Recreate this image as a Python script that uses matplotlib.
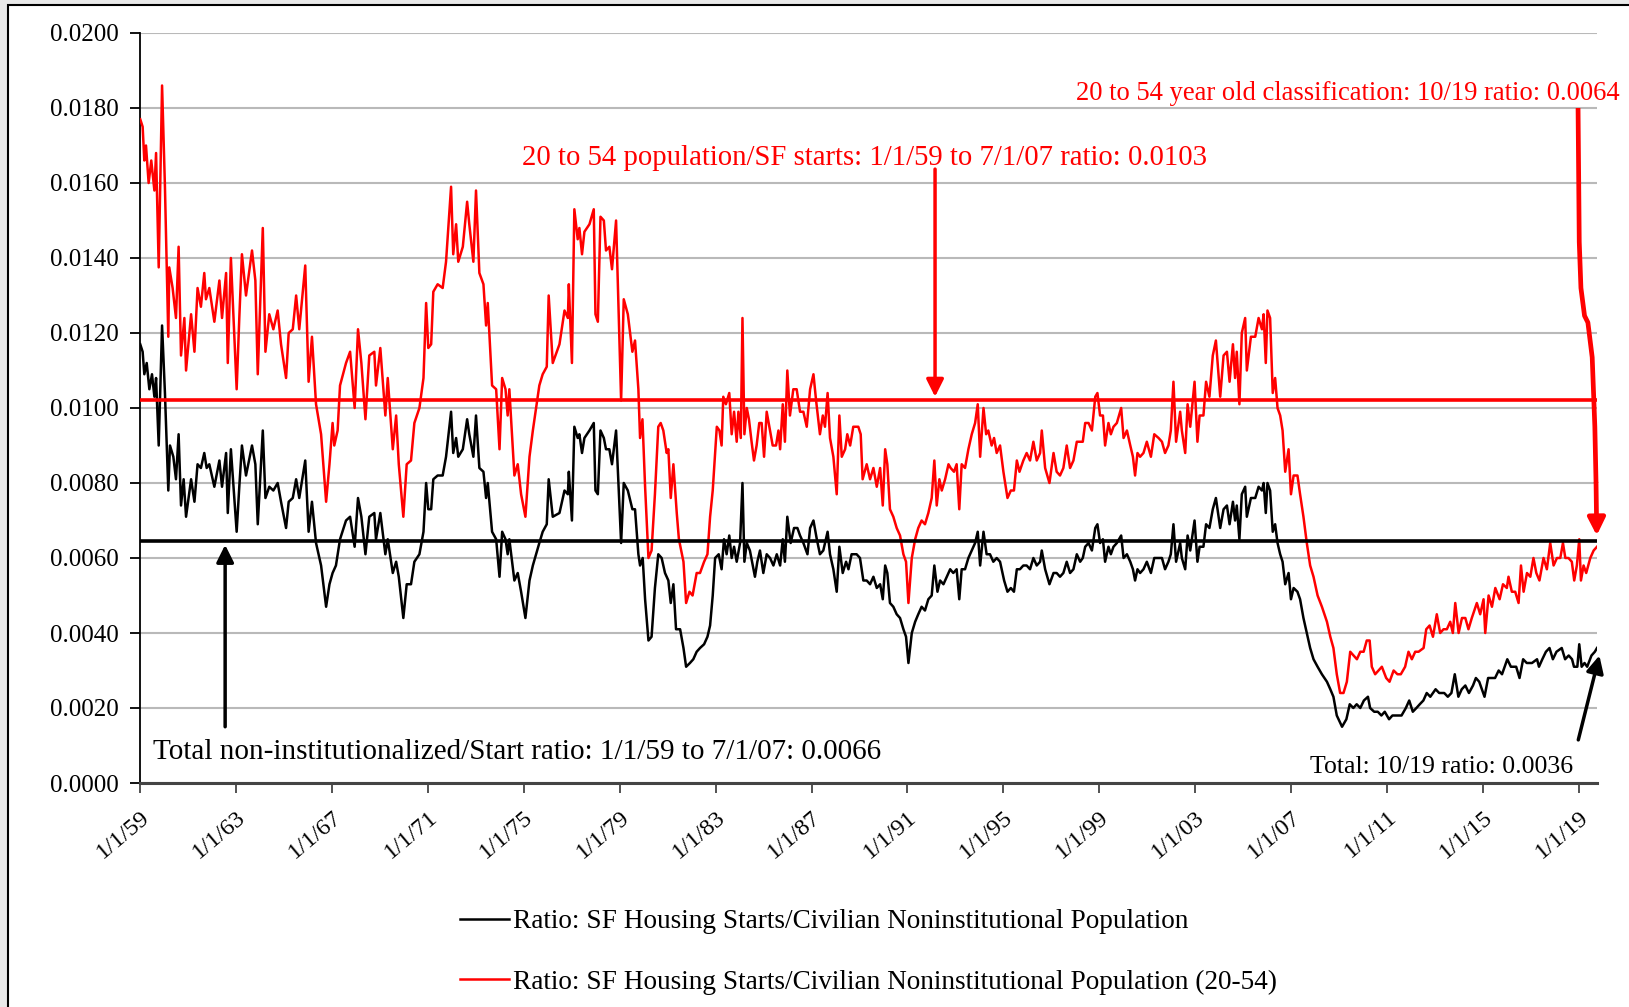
import matplotlib
matplotlib.use("Agg")
import matplotlib.pyplot as plt
from matplotlib.patches import Rectangle
from matplotlib.ticker import FixedLocator, FormatStrFormatter

plt.rcParams['font.family'] = ['Liberation Serif', 'DejaVu Serif']

# ratio of SF starts to the 20-54 population (red)
red_years = [
    1959.01, 1959.11, 1959.18, 1959.25, 1959.36, 1959.47, 1959.60, 1959.67, 1959.78, 1959.92,
    1960.04, 1960.18, 1960.22, 1960.36, 1960.50, 1960.61, 1960.71, 1960.85, 1960.92, 1961.13,
    1961.27, 1961.40, 1961.54, 1961.68, 1961.75, 1961.89, 1962.10, 1962.31, 1962.42, 1962.59,
    1962.66, 1962.79, 1963.03, 1963.14, 1963.25, 1963.42, 1963.67, 1963.81, 1963.91, 1964.12,
    1964.23, 1964.39, 1964.56, 1964.74, 1964.88, 1965.09, 1965.20, 1965.37, 1965.51, 1965.64,
    1965.89, 1966.03, 1966.17, 1966.34, 1966.55, 1966.76, 1966.90, 1967.03, 1967.10, 1967.24,
    1967.34, 1967.59, 1967.76, 1967.95, 1968.09, 1968.23, 1968.40, 1968.56, 1968.77, 1968.84,
    1969.02, 1969.23, 1969.33, 1969.54, 1969.68, 1969.79, 1969.98, 1970.12, 1970.30, 1970.44,
    1970.65, 1970.82, 1970.93, 1971.02, 1971.14, 1971.23, 1971.41, 1971.62, 1971.76, 1971.97,
    1972.06, 1972.18, 1972.27, 1972.46, 1972.64, 1972.73, 1972.90, 1973.01, 1973.15, 1973.32,
    1973.43, 1973.50, 1973.68, 1973.85, 1973.99, 1974.10, 1974.24, 1974.33, 1974.40, 1974.61,
    1974.75, 1974.89, 1975.07, 1975.24, 1975.38, 1975.65, 1975.79, 1975.96, 1976.04, 1976.21,
    1976.49, 1976.70, 1976.84, 1976.88, 1977.01, 1977.11, 1977.25, 1977.32, 1977.43, 1977.53,
    1977.74, 1977.92, 1977.99, 1978.09, 1978.20, 1978.34, 1978.43, 1978.57, 1978.68, 1978.85,
    1979.06, 1979.17, 1979.34,
    1979.53, 1979.64, 1979.78, 1979.85, 1979.95, 1980.06, 1980.20, 1980.33, 1980.47, 1980.61,
    1980.71, 1980.82, 1980.96, 1981.03, 1981.13, 1981.24, 1981.38, 1981.47, 1981.66, 1981.77,
    1981.91, 1982.04, 1982.21, 1982.35, 1982.52, 1982.66, 1982.77, 1982.88, 1982.98, 1983.05,
    1983.16, 1983.25, 1983.32, 1983.43, 1983.57, 1983.67, 1983.77, 1983.88, 1983.95, 1984.05,
    1984.12, 1984.20, 1984.30, 1984.39, 1984.50, 1984.60, 1984.71, 1984.82, 1984.92, 1985.02,
    1985.13, 1985.27, 1985.38, 1985.52, 1985.62, 1985.69, 1985.80, 1985.89, 1985.99, 1986.10,
    1986.24, 1986.38, 1986.52, 1986.66, 1986.80, 1986.94, 1987.08, 1987.19, 1987.35, 1987.47,
    1987.56, 1987.67, 1987.77, 1987.91, 1988.05, 1988.16, 1988.26, 1988.40, 1988.49, 1988.61,
    1988.74, 1988.95, 1989.05, 1989.13, 1989.30, 1989.44, 1989.58, 1989.72, 1989.86, 1989.97,
    1990.07, 1990.16, 1990.27, 1990.41, 1990.55, 1990.69, 1990.83, 1990.94, 1991.04, 1991.18,
    1991.32, 1991.45, 1991.59, 1991.73, 1991.87, 1992.01, 1992.12, 1992.22, 1992.33, 1992.43,
    1992.57, 1992.71, 1992.80, 1992.94, 1993.05, 1993.16, 1993.26, 1993.40, 1993.54, 1993.68,
    1993.82, 1993.93, 1994.03, 1994.17, 1994.28, 1994.37, 1994.51, 1994.61, 1994.72, 1994.86,
    1995.00, 1995.17, 1995.31, 1995.44, 1995.56, 1995.67, 1995.83, 1995.97, 1996.11, 1996.25,
    1996.39, 1996.53, 1996.60, 1996.74, 1996.92, 1997.09, 1997.22, 1997.36, 1997.50, 1997.64,
    1997.78, 1997.92, 1998.06,
    1998.20, 1998.31, 1998.41, 1998.55, 1998.69, 1998.83, 1998.92, 1999.03, 1999.15, 1999.24,
    1999.38, 1999.48, 1999.59, 1999.73, 1999.91, 2000.01, 2000.15, 2000.29, 2000.40, 2000.49,
    2000.59, 2000.70, 2000.84, 2000.98, 2001.15, 2001.29, 2001.47, 2001.61, 2001.74, 2001.88,
    2001.98, 2002.09, 2002.20, 2002.37, 2002.44, 2002.58, 2002.68, 2002.79, 2002.97, 2003.09,
    2003.18, 2003.34, 2003.45, 2003.59, 2003.73, 2003.86, 2004.04, 2004.18, 2004.32, 2004.43,
    2004.57, 2004.66, 2004.73, 2004.84, 2004.94, 2005.08, 2005.15, 2005.32, 2005.50, 2005.64,
    2005.78, 2005.85, 2005.94, 2006.01, 2006.12, 2006.23, 2006.33, 2006.43, 2006.54, 2006.64,
    2006.75, 2006.89, 2006.99, 2007.10, 2007.26, 2007.37, 2007.51, 2007.65, 2007.79, 2007.93,
    2008.10, 2008.28, 2008.49, 2008.63, 2008.76, 2008.90, 2009.04, 2009.18, 2009.32, 2009.46,
    2009.60, 2009.74, 2009.88, 2010.02, 2010.15, 2010.27, 2010.36, 2010.50, 2010.64, 2010.78,
    2010.96, 2011.10, 2011.27, 2011.43, 2011.57, 2011.75, 2011.89, 2012.03, 2012.17, 2012.31,
    2012.52, 2012.63, 2012.77, 2012.91, 2013.07, 2013.21, 2013.35, 2013.49, 2013.63, 2013.74,
    2013.84, 2013.98, 2014.12, 2014.26, 2014.39, 2014.53, 2014.74, 2014.88, 2015.02, 2015.09,
    2015.23, 2015.37, 2015.51, 2015.69, 2015.83, 2015.99, 2016.06, 2016.20, 2016.34, 2016.48,
    2016.58, 2016.69, 2016.83, 2016.97, 2017.10, 2017.22, 2017.35, 2017.52, 2017.66, 2017.80,
    2017.94, 2018.08, 2018.22, 2018.33, 2018.43, 2018.56, 2018.70, 2018.80, 2018.91, 2019.01,
    2019.08, 2019.19, 2019.30, 2019.47, 2019.61, 2019.75,
]
red_ratio = [
    0.0177, 0.0175, 0.0166, 0.0170, 0.0160, 0.0166, 0.0158, 0.0168, 0.01375, 0.0186,
    0.0159, 0.0119, 0.01375, 0.0132, 0.0124, 0.0143, 0.0114, 0.0124, 0.0110, 0.0125,
    0.0115, 0.0132, 0.0127, 0.0136, 0.0129, 0.0132, 0.0123, 0.0134, 0.0124, 0.0136,
    0.0112, 0.0140, 0.0105, 0.0124, 0.0141, 0.0130, 0.0142, 0.0134, 0.0109, 0.0148,
    0.0115, 0.0125, 0.0121, 0.0126, 0.0117, 0.0108, 0.0120, 0.0121, 0.0130, 0.0121,
    0.0138, 0.0107, 0.0119, 0.0101, 0.0093, 0.0075, 0.0085, 0.0096, 0.0090, 0.0094,
    0.0106, 0.0112, 0.0115, 0.0100, 0.0121, 0.0112, 0.0097, 0.0114, 0.0115, 0.0106,
    0.0116, 0.0098, 0.0108, 0.0089, 0.0098, 0.0085, 0.0071, 0.0085, 0.0086, 0.0096,
    0.0100, 0.0108, 0.0128, 0.0116, 0.0117, 0.0131, 0.0133, 0.0132, 0.0139, 0.0159,
    0.0141, 0.0149, 0.0139, 0.0143, 0.0155, 0.0149, 0.0139, 0.0158, 0.0136, 0.0133,
    0.0122, 0.0128, 0.0106, 0.0105, 0.0089, 0.0108, 0.0105, 0.0098, 0.0105, 0.0082,
    0.0085, 0.0077, 0.0071, 0.0087, 0.0094, 0.0106, 0.0109, 0.0111, 0.0130, 0.0112,
    0.0117, 0.0126, 0.0124, 0.0133, 0.0112, 0.0153, 0.0145, 0.0148, 0.0141, 0.0147,
    0.0149, 0.0153, 0.0125, 0.0123, 0.0151, 0.0150, 0.0142, 0.0143, 0.0137, 0.0150,
    0.0102, 0.0129, 0.0125,
    0.0115, 0.0118, 0.0105, 0.0092, 0.0097, 0.0079, 0.0060, 0.0062, 0.0077, 0.0095,
    0.0096, 0.0094, 0.0088, 0.0089, 0.0076, 0.0085, 0.0072, 0.0065, 0.0059, 0.0048,
    0.0051, 0.0050, 0.0056, 0.0056, 0.0059, 0.0061, 0.0071, 0.0078, 0.0088, 0.0095,
    0.0094, 0.0090, 0.0103, 0.0101, 0.0104, 0.0093, 0.0099, 0.0091, 0.0099, 0.0092,
    0.0124, 0.0093, 0.0100, 0.0097, 0.0091, 0.0086, 0.0090, 0.0096, 0.0096, 0.0087,
    0.0099, 0.0094, 0.0090, 0.0090, 0.0094, 0.0089, 0.0101, 0.0091, 0.0110, 0.0098,
    0.0105, 0.0105, 0.0099, 0.0099, 0.0095, 0.0105, 0.0109, 0.0102, 0.0093, 0.0098,
    0.0095, 0.0104, 0.0092, 0.0087, 0.0077, 0.0098, 0.0087, 0.0089, 0.0093, 0.0090,
    0.0095, 0.0095, 0.0093, 0.0081, 0.0085, 0.0081, 0.0084, 0.0079, 0.0084, 0.0074,
    0.0089, 0.0085, 0.0073, 0.0071, 0.0068, 0.0066, 0.0061, 0.0059, 0.0048, 0.0060,
    0.0065, 0.0068, 0.0070, 0.0069, 0.0072, 0.0076, 0.0086, 0.0074, 0.0081, 0.0078,
    0.0081, 0.0085, 0.0084, 0.0083, 0.0085, 0.0073, 0.0085, 0.0084, 0.0089, 0.0093,
    0.0096, 0.0101, 0.0087, 0.0100, 0.0093, 0.0094, 0.0090, 0.0092, 0.0088, 0.0090,
    0.0083, 0.0076, 0.0078, 0.0078, 0.0086, 0.0083, 0.0086, 0.0088, 0.0086, 0.0091,
    0.0086, 0.0088, 0.0094, 0.0084, 0.0080, 0.0088, 0.0083, 0.0082, 0.0084, 0.0090,
    0.0084, 0.0086, 0.0091,
    0.0091, 0.0091, 0.0096, 0.0096, 0.0094, 0.0103, 0.0104, 0.0098, 0.0098, 0.0090,
    0.0096, 0.0093, 0.0095, 0.0096, 0.0100, 0.0092, 0.0094, 0.0090, 0.0087, 0.0082,
    0.0088, 0.0087, 0.0088, 0.0091, 0.0087, 0.0093, 0.0092, 0.0091, 0.0088, 0.0090,
    0.0094, 0.0107, 0.0091, 0.0099, 0.0094, 0.0088, 0.0101, 0.0095, 0.0107, 0.0091,
    0.0098, 0.0098, 0.0107, 0.0103, 0.0114, 0.0118, 0.0103, 0.0114, 0.0115, 0.0107,
    0.0117, 0.0108, 0.0115, 0.0101, 0.0120, 0.0124, 0.0110, 0.0119, 0.0119, 0.0124,
    0.0121, 0.0125, 0.0112, 0.0126, 0.0124, 0.0104, 0.0108, 0.0100, 0.0098, 0.0094,
    0.0083, 0.0089, 0.0077, 0.0082, 0.0082, 0.0077, 0.0071, 0.0064, 0.0058, 0.0055,
    0.0050, 0.0047, 0.0043, 0.0039, 0.0036, 0.0029, 0.0024, 0.0024, 0.0027, 0.0035,
    0.0034, 0.0033, 0.0035, 0.0035, 0.0038, 0.0038, 0.0031, 0.0029, 0.0030, 0.0031,
    0.0028, 0.0027, 0.0030, 0.0029, 0.0029, 0.0031, 0.0035, 0.0033, 0.0035, 0.0035,
    0.0036, 0.0041, 0.0042, 0.0039, 0.0045, 0.0040, 0.0041, 0.0041, 0.0043, 0.0040,
    0.0048, 0.0040, 0.0044, 0.0044, 0.0041, 0.0044, 0.0048, 0.0045, 0.0049, 0.0040,
    0.0050, 0.0047, 0.0052, 0.0049, 0.0053, 0.0052, 0.0055, 0.0051, 0.0051, 0.0048,
    0.0058, 0.0051, 0.0056, 0.0055, 0.0060, 0.0056, 0.0054, 0.0060, 0.0057, 0.0064,
    0.0058, 0.0060, 0.0060, 0.0064, 0.0060, 0.0060, 0.0059, 0.0054, 0.0058, 0.0065,
    0.0054, 0.0058, 0.0056, 0.0060, 0.0062, 0.0063,
]

# ratio of SF starts to the total civilian noninstitutional population (black)
total_years = [
    1959.01, 1959.11, 1959.18, 1959.28, 1959.39, 1959.50, 1959.60, 1959.67, 1959.78, 1959.92,
    1960.04, 1960.18, 1960.25, 1960.39, 1960.50, 1960.61, 1960.71, 1960.82, 1960.92, 1961.13,
    1961.27, 1961.40, 1961.54, 1961.68, 1961.78, 1961.89, 1962.10, 1962.31, 1962.42, 1962.59,
    1962.66, 1962.79, 1963.03, 1963.14, 1963.25, 1963.42, 1963.67, 1963.81, 1963.91, 1964.12,
    1964.23, 1964.39, 1964.56, 1964.74, 1964.88, 1965.09, 1965.20, 1965.37, 1965.51, 1965.64,
    1965.89, 1966.03, 1966.17, 1966.34, 1966.55, 1966.76, 1966.90, 1967.03, 1967.17, 1967.34,
    1967.59, 1967.76, 1967.95, 1968.09, 1968.23, 1968.40, 1968.56, 1968.77, 1968.84, 1969.02,
    1969.23, 1969.33, 1969.54, 1969.68, 1969.79, 1969.98, 1970.12, 1970.30, 1970.44, 1970.65,
    1970.82, 1970.93, 1971.02, 1971.14, 1971.23, 1971.41, 1971.62, 1971.76, 1971.97, 1972.06,
    1972.18, 1972.27, 1972.46, 1972.64, 1972.73, 1972.90, 1973.01, 1973.15, 1973.32, 1973.43,
    1973.50, 1973.68, 1973.85, 1973.99, 1974.10, 1974.24, 1974.33, 1974.40, 1974.61, 1974.75,
    1974.89, 1975.07, 1975.24, 1975.38, 1975.65, 1975.79, 1975.96, 1976.04, 1976.21, 1976.49,
    1976.70, 1976.84, 1976.88, 1977.01, 1977.11, 1977.25, 1977.32, 1977.43, 1977.53, 1977.74,
    1977.92, 1977.99, 1978.09, 1978.20, 1978.34, 1978.43, 1978.57, 1978.68, 1978.85, 1979.06,
    1979.17, 1979.34,
    1979.53, 1979.64, 1979.78, 1979.85, 1979.96, 1980.06, 1980.20, 1980.33, 1980.47, 1980.61,
    1980.75, 1980.89, 1981.03, 1981.13, 1981.24, 1981.35, 1981.52, 1981.66, 1981.77, 1981.93,
    1982.07, 1982.21, 1982.35, 1982.52, 1982.66, 1982.77, 1982.88, 1982.98, 1983.13, 1983.25,
    1983.35, 1983.46, 1983.57, 1983.67, 1983.77, 1983.88, 1984.02, 1984.12, 1984.20, 1984.30,
    1984.43, 1984.55, 1984.64, 1984.74, 1984.85, 1984.99, 1985.13, 1985.27, 1985.41, 1985.55,
    1985.69, 1985.80, 1985.89, 1985.99, 1986.13, 1986.27, 1986.41, 1986.52, 1986.66, 1986.83,
    1986.94, 1987.08, 1987.22, 1987.35, 1987.49, 1987.67, 1987.77, 1987.91, 1988.05, 1988.16,
    1988.30, 1988.44, 1988.54, 1988.67, 1988.88, 1989.02, 1989.16, 1989.30, 1989.44, 1989.58,
    1989.72, 1989.86, 1989.97, 1990.07, 1990.16, 1990.27, 1990.41, 1990.55, 1990.69, 1990.83,
    1990.94, 1991.04, 1991.18, 1991.32, 1991.45, 1991.59, 1991.73, 1991.87, 1992.01, 1992.12,
    1992.25, 1992.36, 1992.50, 1992.64, 1992.78, 1992.91, 1993.05, 1993.16, 1993.26, 1993.40,
    1993.54, 1993.68, 1993.82, 1993.93, 1994.03, 1994.17, 1994.30, 1994.44, 1994.58, 1994.72,
    1994.86, 1995.03, 1995.17, 1995.31, 1995.44, 1995.56, 1995.69, 1995.83, 1995.97, 1996.11,
    1996.25, 1996.39, 1996.53, 1996.60, 1996.74, 1996.92, 1997.09, 1997.22, 1997.36, 1997.50,
    1997.64, 1997.78, 1997.92, 1998.06,
    1998.20, 1998.31, 1998.41, 1998.55, 1998.69, 1998.83, 1998.92, 1999.03, 1999.15, 1999.24,
    1999.38, 1999.48, 1999.59, 1999.73, 1999.91, 2000.01, 2000.15, 2000.29, 2000.40, 2000.49,
    2000.59, 2000.70, 2000.84, 2000.98, 2001.15, 2001.29, 2001.47, 2001.61, 2001.74, 2001.88,
    2001.98, 2002.09, 2002.20, 2002.37, 2002.44, 2002.58, 2002.68, 2002.79, 2002.97, 2003.09,
    2003.18, 2003.34, 2003.45, 2003.59, 2003.73, 2003.86, 2004.04, 2004.18, 2004.32, 2004.43,
    2004.57, 2004.66, 2004.73, 2004.84, 2004.94, 2005.08, 2005.15, 2005.32, 2005.50, 2005.64,
    2005.78, 2005.85, 2005.94, 2006.01, 2006.12, 2006.23, 2006.33, 2006.43, 2006.54, 2006.64,
    2006.75, 2006.89, 2006.99, 2007.10, 2007.26, 2007.37, 2007.51, 2007.65, 2007.79, 2007.93,
    2008.10, 2008.28, 2008.49, 2008.63, 2008.76, 2008.90,
    2009.12, 2009.30, 2009.44, 2009.59, 2009.73, 2009.88, 2010.03, 2010.20, 2010.29, 2010.46,
    2010.61, 2010.76, 2010.90, 2011.08, 2011.22, 2011.41, 2011.60, 2011.78, 2011.92, 2012.07,
    2012.22, 2012.36, 2012.51, 2012.65, 2012.80, 2013.02, 2013.17, 2013.38, 2013.53, 2013.68,
    2013.82, 2013.97, 2014.11, 2014.26, 2014.41, 2014.58, 2014.70, 2014.84, 2015.06, 2015.21,
    2015.36, 2015.50, 2015.65, 2015.79, 2016.01, 2016.16, 2016.38, 2016.52, 2016.67, 2016.82,
    2017.04, 2017.25, 2017.33, 2017.47, 2017.62, 2017.77, 2017.91, 2018.06, 2018.28, 2018.42,
    2018.57, 2018.71, 2018.79, 2018.93, 2019.01, 2019.11, 2019.23, 2019.34, 2019.52, 2019.66,
    2019.75,
]
total_ratio = [
    0.0117, 0.0115, 0.0109, 0.0112, 0.0105, 0.0109, 0.0103, 0.0108, 0.0090, 0.0122,
    0.0104, 0.0078, 0.0090, 0.0087, 0.0081, 0.0093, 0.0074, 0.0081, 0.0071, 0.0081,
    0.0075, 0.0085, 0.0084, 0.0088, 0.0084, 0.0085, 0.0079, 0.0086, 0.0079, 0.0088,
    0.0072, 0.0089, 0.0067, 0.0079, 0.0090, 0.0082, 0.0090, 0.0085, 0.0069, 0.0094,
    0.0076, 0.0079, 0.0078, 0.0080, 0.0075, 0.0068, 0.0075, 0.0076, 0.0081, 0.0076,
    0.0086, 0.0067, 0.0075, 0.0064, 0.0058, 0.0047, 0.0053, 0.0056, 0.0058, 0.0065,
    0.0070, 0.0071, 0.0063, 0.0076, 0.0071, 0.0061, 0.0071, 0.0072, 0.0065, 0.0072,
    0.0061, 0.0065, 0.0056, 0.0059, 0.0055, 0.0044, 0.0053, 0.0053, 0.0059, 0.0061,
    0.0067, 0.0080, 0.0073, 0.0073, 0.0081, 0.0082, 0.0082, 0.0087, 0.0099, 0.0088,
    0.0092, 0.0087, 0.0089, 0.0097, 0.0093, 0.0087, 0.0098, 0.0084, 0.0083, 0.0076,
    0.0080, 0.0067, 0.0065, 0.0055, 0.0067, 0.0065, 0.0061, 0.0065, 0.0054, 0.0056,
    0.0051, 0.0044, 0.0054, 0.0058, 0.0064, 0.0067, 0.0069, 0.0081, 0.0071, 0.0072,
    0.0078, 0.0077, 0.0083, 0.0070, 0.0095, 0.0092, 0.0093, 0.0088, 0.0092, 0.0094,
    0.0096, 0.0078, 0.0077, 0.0094, 0.0092, 0.0089, 0.0089, 0.0085, 0.0094, 0.0064,
    0.0080, 0.0078,
    0.0073, 0.0073, 0.0061, 0.0058, 0.0060, 0.0049, 0.0038, 0.0039, 0.0052, 0.0061,
    0.0060, 0.0056, 0.0054, 0.0048, 0.0053, 0.0041, 0.0041, 0.0036, 0.0031, 0.0032,
    0.0033, 0.0035, 0.0036, 0.0037, 0.0039, 0.0042, 0.0050, 0.0060, 0.0061, 0.0057,
    0.0065, 0.0061, 0.0066, 0.0060, 0.0063, 0.0059, 0.0064, 0.0080, 0.0059, 0.0064,
    0.0062, 0.0058, 0.0055, 0.0059, 0.0062, 0.0056, 0.0061, 0.0060, 0.0058, 0.0061,
    0.0058, 0.0065, 0.0059, 0.0071, 0.0064, 0.0068, 0.0068, 0.0066, 0.0064, 0.0061,
    0.0068, 0.0070, 0.0065, 0.0061, 0.0062, 0.0067, 0.0061, 0.0057, 0.0051, 0.0063,
    0.0056, 0.0059, 0.0057, 0.0061, 0.0061, 0.0060, 0.0054, 0.0054, 0.0053, 0.0055,
    0.0052, 0.0053, 0.0049, 0.0058, 0.0056, 0.0048, 0.0047, 0.0045, 0.0044, 0.0041,
    0.0039, 0.0032, 0.0040, 0.0043, 0.0045, 0.0047, 0.0046, 0.0049, 0.0050, 0.0058,
    0.0051, 0.0054, 0.0053, 0.0055, 0.0057, 0.0056, 0.0057, 0.0049, 0.0057, 0.0057,
    0.0060, 0.0062, 0.0064, 0.0067, 0.0058, 0.0067, 0.0061, 0.0061, 0.0059, 0.0060,
    0.0059, 0.0054, 0.0051, 0.0052, 0.0051, 0.0057, 0.0057, 0.0058, 0.0058, 0.0057,
    0.0060, 0.0058, 0.0059, 0.0062, 0.0057, 0.0053, 0.0056, 0.0056, 0.0055, 0.0056,
    0.0059, 0.0056, 0.0057, 0.0061,
    0.0059, 0.0060, 0.0063, 0.0064, 0.0062, 0.0068, 0.0069, 0.0064, 0.0065, 0.0059,
    0.0063, 0.0061, 0.0063, 0.0064, 0.0066, 0.0060, 0.0061, 0.0059, 0.0057, 0.0054,
    0.0057, 0.0056, 0.0057, 0.0059, 0.0056, 0.0060, 0.0060, 0.0060, 0.0057, 0.0059,
    0.0061, 0.0069, 0.0059, 0.0064, 0.0060, 0.0057, 0.0066, 0.0062, 0.0070, 0.0059,
    0.0063, 0.0063, 0.0069, 0.0068, 0.0073, 0.0076, 0.0068, 0.0073, 0.0074, 0.0069,
    0.0075, 0.0070, 0.0074, 0.0065, 0.0077, 0.0079, 0.0071, 0.0076, 0.0076, 0.0079,
    0.0078, 0.0080, 0.0072, 0.0080, 0.0078, 0.0067, 0.0069, 0.0064, 0.0061, 0.0059,
    0.0053, 0.0056, 0.0049, 0.0052, 0.0051, 0.0049, 0.0044, 0.0040, 0.0036, 0.0033,
    0.0031, 0.0029, 0.0027, 0.0025, 0.0023, 0.0018,
    0.0015, 0.0017, 0.0021, 0.0020, 0.0021, 0.0020, 0.0022, 0.0023, 0.0020, 0.0019,
    0.0019, 0.0018, 0.0019, 0.0017, 0.0018, 0.0018, 0.0018, 0.0020, 0.0022, 0.0019,
    0.0020, 0.0021, 0.0022, 0.0024, 0.0023, 0.0025, 0.0024, 0.0024, 0.0023, 0.0024,
    0.0029, 0.0023, 0.0025, 0.0026, 0.0024, 0.0026, 0.0028, 0.0027, 0.0023, 0.0028,
    0.0028, 0.0028, 0.0030, 0.0029, 0.0033, 0.0031, 0.0031, 0.0028, 0.0033, 0.0032,
    0.0032, 0.0033, 0.0031, 0.0033, 0.0035, 0.0036, 0.0033, 0.0035, 0.0036, 0.0033,
    0.0034, 0.0033, 0.0031, 0.0031, 0.0037, 0.0031, 0.0032, 0.0031, 0.0034, 0.0035,
    0.0036,
]

# long-run averages drawn as flat lines
red_mean = 0.0102
total_mean = 0.00645

tick_years = list(range(1959, 2020, 4))
tick_labels = ["1/1/%02d" % (y % 100) for y in tick_years]

assert len(red_years) == len(red_ratio)
assert len(total_years) == len(total_ratio)

fig = plt.figure(figsize=(16.29, 10.07), dpi=100)
fig.patch.set_facecolor("#e9e9e9")
# white sheet with a thin black frame on the left and top
fig.add_artist(Rectangle((8 / 1629, -0.05), 1.1, 1.05 - 5 / 1007,
                         transform=fig.transFigure, facecolor="white",
                         edgecolor="black", linewidth=1.5, zorder=-10))

ax = fig.add_axes([140 / 1629, 1 - 783 / 1007, 1457 / 1629, 750 / 1007])
ax.set_facecolor("none")

red_line, = ax.plot(red_years, red_ratio, color="#ff0000", lw=1.8, zorder=3)
blk_line, = ax.plot(total_years, total_ratio, color="black", lw=1.8, zorder=3)
ax.axhline(red_mean, color="#ff0000", lw=2.6, zorder=4)
ax.axhline(total_mean, color="black", lw=2.6, zorder=4)

ax.set_xlim(1959, 2019.75)
ax.set_ylim(0, 0.02)
ax.yaxis.set_major_locator(FixedLocator([i * 0.002 for i in range(11)]))
ax.yaxis.set_major_formatter(FormatStrFormatter("%.4f"))
ax.set_xticks(tick_years)
ax.set_xticklabels(tick_labels, rotation=40, ha="right", va="top",
                   rotation_mode="anchor")
ax.grid(axis="y", color="#b9b9b9", lw=1.5, zorder=0)
ax.set_axisbelow(True)

for side in ("top", "right"):
    ax.spines[side].set_visible(False)
ax.spines["left"].set_color("black")
ax.spines["left"].set_linewidth(1.3)
ax.spines["bottom"].set_color("#444444")
ax.spines["bottom"].set_linewidth(2.2)
ax.tick_params(axis="y", direction="out", length=7, width=1.3, pad=8,
               labelsize=18)
ax.tick_params(axis="x", direction="out", length=7, width=1.3, pad=10,
               labelsize=17.5, color="#444444")

# arrows
ax.annotate("", xy=(1992.15, 0.0103), xytext=(1992.15, 0.01637),
            arrowprops=dict(arrowstyle="-|>", color="#ff0000", lw=2.5,
                            mutation_scale=26, shrinkA=0, shrinkB=0))
ax.annotate("", xy=(1962.55, 0.00635), xytext=(1962.55, 0.0015),
            arrowprops=dict(arrowstyle="-|>", color="black", lw=2.5,
                            mutation_scale=26, shrinkA=0, shrinkB=0))
ax.annotate("", xy=(2019.85, 0.0034), xytext=(2018.97, 0.00115),
            arrowprops=dict(arrowstyle="-|>", color="black", lw=2.5,
                            mutation_scale=26, shrinkA=0, shrinkB=0),
            annotation_clip=False)
bend_x = [2018.96, 2019.01, 2019.08, 2019.23, 2019.37, 2019.55, 2019.66, 2019.71]
bend_y = [0.0180, 0.01443, 0.0132, 0.01246, 0.01228, 0.01135, 0.0095, 0.0080]
ax.plot(bend_x, bend_y, color="#ff0000", lw=3.4, clip_on=False, zorder=5,
        solid_capstyle="butt")
ax.annotate("", xy=(2019.74, 0.0066), xytext=(2019.71, 0.0080),
            arrowprops=dict(arrowstyle="-|>", color="#ff0000", lw=3.4,
                            mutation_scale=26, shrinkA=0, shrinkB=0),
            annotation_clip=False)

# annotations
fig.text(1348 / 1629, 1 - 93 / 1007,
         "20 to 54 year old classification: 10/19 ratio: 0.0064",
         color="#ff0000", fontsize=19.2, ha="center", va="center")
fig.text(864 / 1629, 1 - 158 / 1007,
         "20 to 54 population/SF starts: 1/1/59 to 7/1/07 ratio: 0.0103",
         color="#ff0000", fontsize=20.7, ha="center", va="center")
fig.text(517 / 1629, 1 - 752 / 1007,
         "Total non-institutionalized/Start ratio: 1/1/59 to 7/1/07: 0.0066",
         color="black", fontsize=21, ha="center", va="center")
fig.text(1442 / 1629, 1 - 767 / 1007, "Total: 10/19 ratio: 0.0036",
         color="black", fontsize=18.5, ha="center", va="center")

fig.legend([blk_line, red_line],
           ["Ratio: SF Housing Starts/Civilian Noninstitutional Population",
            "Ratio: SF Housing Starts/Civilian Noninstitutional Population (20-54)"],
           loc="upper left", bbox_to_anchor=(460 / 1629, 1 - 909 / 1007),
           frameon=False, fontsize=19.6, handlelength=1.8, handletextpad=0.15,
           labelspacing=1.3, borderpad=0, borderaxespad=0)

fig.savefig("out.png", dpi=100, facecolor=fig.get_facecolor())
